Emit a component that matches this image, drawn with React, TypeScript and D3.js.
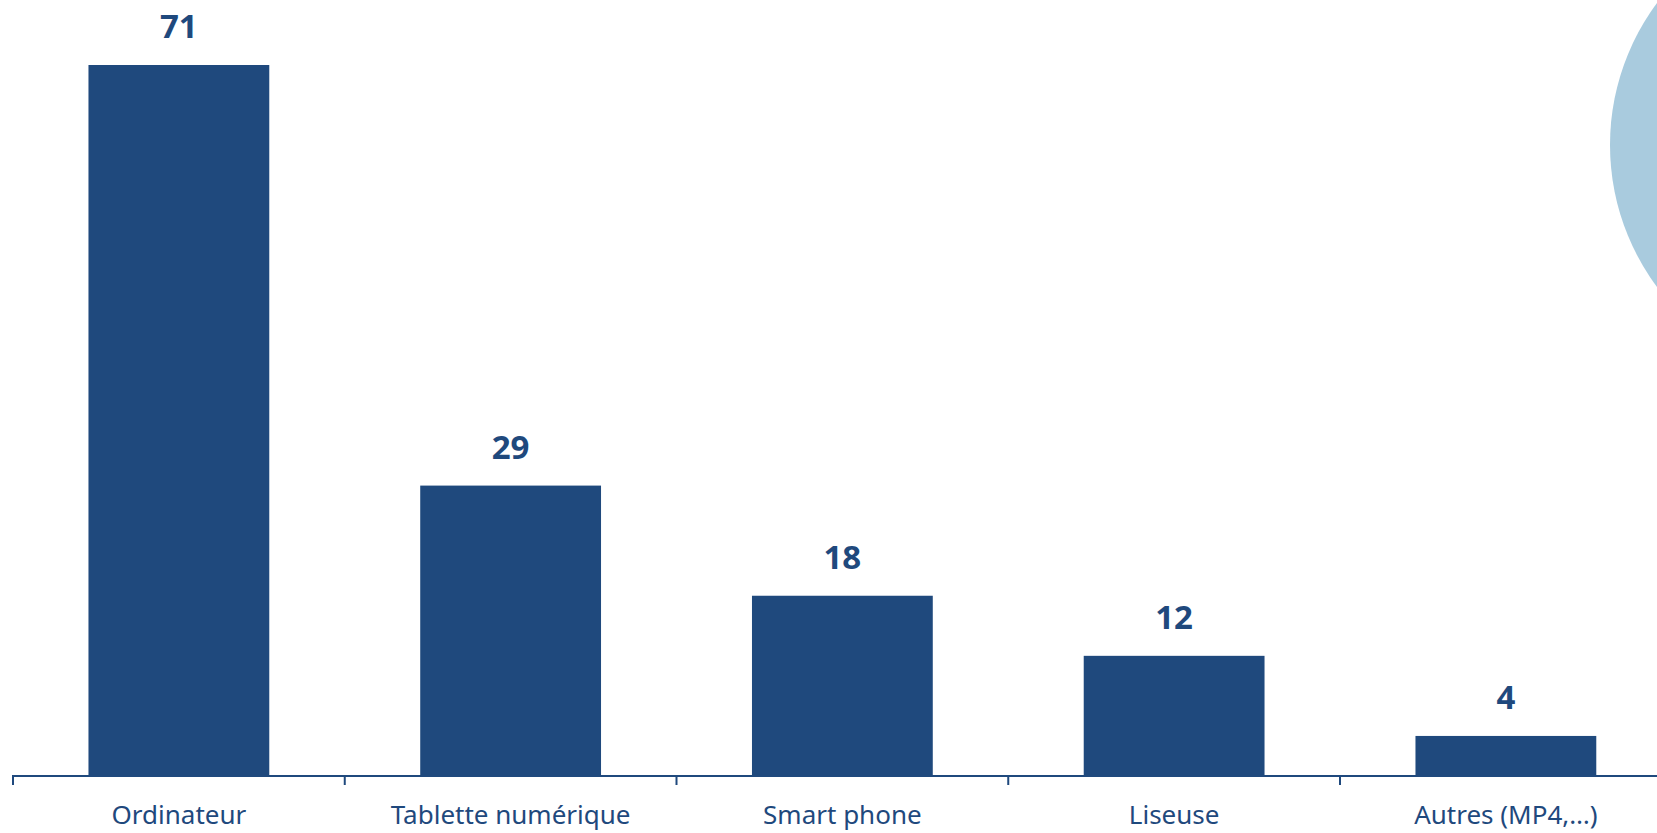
import React from "react";
import * as d3 from "d3";

const categories: string[] = ["Ordinateur", "Tablette numérique", "Smart phone", "Liseuse", "Autres (MP4,…)"];
const values: number[] = [71, 29, 18, 12, 4];

const W = 1657;
const H = 833;
const axisY = 776;
const barColor = "#1F497D";
const textColor = "#1F497D";

export default function App() {
  const step = 331.75;
  const x = d3
    .scaleBand<string>()
    .domain(categories)
    .range([13, 13 + step * categories.length])
    .paddingInner(0.455)
    .paddingOuter(0.2275);
  const y = d3.scaleLinear().domain([0, 71]).range([axisY, 65]);
  const ticks = d3.range(categories.length + 1).map((i) => 13 + i * step);

  return (
    <svg
      width={W}
      height={H}
      style={{ position: "absolute", left: 0, top: 0, background: "#fff" }}
      fontFamily="'Noto Sans', 'Open Sans', sans-serif"
    >
      <circle cx={1848} cy={145} r={238} fill="#A9CBDE" />
      {categories.map((c, i) => (
        <g key={c}>
          <rect
            x={x(c)!}
            y={y(values[i])}
            width={x.bandwidth()}
            height={axisY - y(values[i])}
            fill={barColor}
          />
          <text
            x={x(c)! + x.bandwidth() / 2}
            y={y(values[i]) - 27}
            textAnchor="middle"
            fontWeight="bold"
            fontSize={33}
            fill={textColor}
          >
            {values[i]}
          </text>
          <text
            x={x(c)! + x.bandwidth() / 2}
            y={824}
            textAnchor="middle"
            fontSize={26}
            fill={textColor}
          >
            {c}
          </text>
        </g>
      ))}
      <line x1={12} x2={W} y1={axisY} y2={axisY} stroke={barColor} strokeWidth={2} />
      {ticks.filter((t) => t < W).map((t, i) => (
        <line key={i} x1={t} x2={t} y1={axisY} y2={axisY + 9} stroke={barColor} strokeWidth={2} />
      ))}
    </svg>
  );
}
